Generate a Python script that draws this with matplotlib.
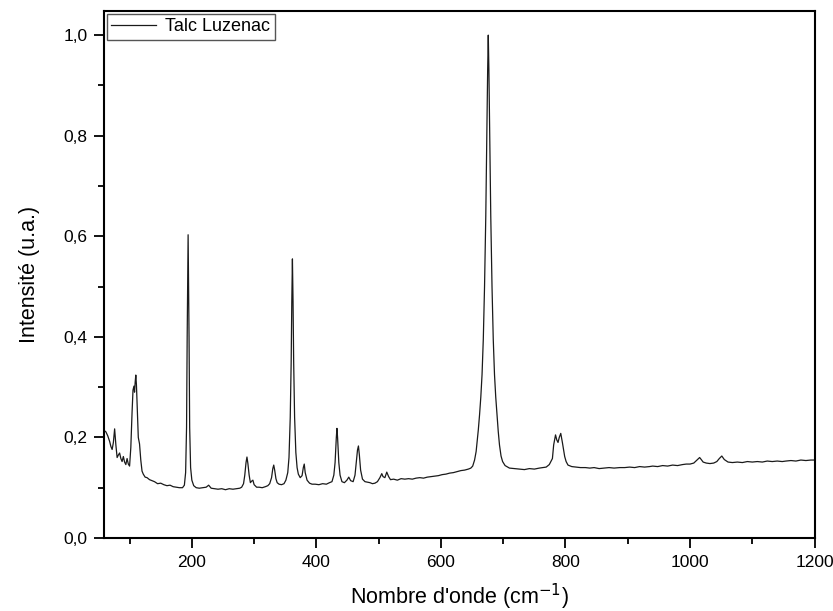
import matplotlib
matplotlib.use('Agg')
import matplotlib.pyplot as plt
from matplotlib.ticker import MultipleLocator, FuncFormatter

plt.rcParams['font.family'] = ['Liberation Sans', 'DejaVu Sans']

# Raman spectrum, as (wavenumber cm-1, intensity) pairs
low_region = [
    (60, 0.213), (62, 0.211), (65, 0.203), (68, 0.192), (70, 0.182), (72, 0.176),
    (74, 0.19), (76, 0.217), (78, 0.185), (80, 0.16), (82, 0.165), (84, 0.169),
    (86, 0.158), (88, 0.152), (90, 0.162), (92, 0.151), (94, 0.146), (96, 0.158),
    (98, 0.147), (100, 0.143), (102, 0.18), (104, 0.25), (105.5, 0.294),
    (107, 0.302), (108, 0.29), (109, 0.31), (110, 0.324), (111, 0.305),
    (112, 0.27), (113, 0.23), (114, 0.2), (115, 0.193), (116, 0.187),
    (118, 0.155), (120, 0.133), (122, 0.127), (125, 0.121), (128, 0.12),
    (132, 0.116), (136, 0.114), (140, 0.112), (145, 0.108), (150, 0.109),
    (155, 0.106), (160, 0.104), (165, 0.105), (170, 0.102), (175, 0.101),
    (180, 0.1), (185, 0.1), (188, 0.105), (190, 0.13), (191.5, 0.22),
    (192.5, 0.4), (194, 0.603), (195.5, 0.4), (196.5, 0.22), (198, 0.14),
    (200, 0.115), (203, 0.104), (207, 0.1), (212, 0.099), (218, 0.1),
    (223, 0.101), (227, 0.105), (231, 0.099), (236, 0.098), (242, 0.097),
    (248, 0.098), (254, 0.096), (260, 0.098), (266, 0.097), (272, 0.098),
    (277, 0.099),
]
mid_region = [
    (280, 0.101), (283, 0.108), (285, 0.125), (287, 0.15), (288.5, 0.161),
    (290, 0.148), (292, 0.125), (294, 0.11), (296, 0.113), (298, 0.115),
    (300, 0.106), (304, 0.101), (308, 0.101), (313, 0.1), (318, 0.102),
    (322, 0.104), (325, 0.108), (328, 0.12), (330, 0.138), (331.5, 0.145),
    (333, 0.135), (335, 0.118), (337, 0.11), (340, 0.107), (344, 0.106),
    (348, 0.108), (351, 0.115), (354, 0.13), (356, 0.16), (358, 0.24),
    (359.5, 0.35), (360.5, 0.47), (361.5, 0.555), (362.5, 0.47), (363.5, 0.35),
    (365, 0.24), (367, 0.17), (369, 0.14), (371, 0.127), (374, 0.12),
    (377, 0.124), (379, 0.14), (380.5, 0.147), (382, 0.13), (385, 0.115),
    (389, 0.109), (393, 0.107), (398, 0.107), (404, 0.106), (410, 0.108),
    (416, 0.107), (421, 0.11), (425, 0.112), (428, 0.125), (430, 0.15),
    (432, 0.2), (433, 0.218), (434, 0.2), (436, 0.15), (438, 0.125),
    (441, 0.112), (445, 0.11), (449, 0.115), (452, 0.121), (455, 0.114),
    (459, 0.112), (462, 0.125), (464, 0.15), (466, 0.175), (467.5, 0.183),
    (469, 0.165), (471, 0.135), (474, 0.117), (478, 0.112), (482, 0.111),
    (486, 0.11), (490, 0.108), (494, 0.109), (498, 0.112), (502, 0.12),
    (505, 0.128), (507, 0.122), (510, 0.12), (513, 0.131), (516, 0.122),
    (519, 0.116), (524, 0.117), (530, 0.115), (536, 0.118), (542, 0.117),
    (548, 0.118), (554, 0.117), (560, 0.119), (566, 0.12), (572, 0.119),
    (578, 0.121), (584, 0.122), (590, 0.123), (596, 0.124), (602, 0.126),
    (608, 0.127), (614, 0.129), (620, 0.13), (626, 0.132), (632, 0.134),
]
main_peak = [
    (638, 0.135), (644, 0.137), (648, 0.139), (651, 0.143), (654, 0.155),
    (656.5, 0.172), (658, 0.19), (660, 0.215), (662, 0.245), (664, 0.28),
    (666, 0.325), (668, 0.395), (670, 0.5), (672, 0.64), (674, 0.83),
    (675, 0.93), (676, 1.0), (677, 0.93), (678, 0.83), (680, 0.64),
    (682, 0.5), (684, 0.395), (686, 0.325), (688, 0.28), (690, 0.245),
    (692, 0.212), (694, 0.185), (696.5, 0.163), (699, 0.152), (703, 0.144),
    (710, 0.139), (718, 0.138), (726, 0.137),
]
high_region = [
    (734, 0.136), (742, 0.138), (750, 0.137), (758, 0.139), (764, 0.14),
    (769, 0.141), (774, 0.146), (779, 0.158), (781, 0.185), (784, 0.205),
    (786, 0.195), (788, 0.19), (790, 0.2), (792.4, 0.208), (795, 0.19),
    (798.7, 0.162), (801, 0.152), (804, 0.145), (810, 0.142), (817, 0.141),
    (824, 0.14), (832, 0.14), (839, 0.139), (846, 0.14), (854, 0.138),
    (862, 0.139), (870, 0.14), (878, 0.139), (887, 0.14), (895, 0.14),
    (903, 0.141), (911, 0.14), (919, 0.142), (927, 0.141), (935, 0.142),
    (940, 0.143), (948, 0.142), (956, 0.144), (964, 0.143), (972, 0.145),
    (980, 0.144), (988, 0.146), (994, 0.147), (1000, 0.147), (1006, 0.149),
    (1011, 0.155), (1015.4, 0.16), (1018, 0.156), (1021, 0.151), (1026, 0.149),
    (1032, 0.148), (1038, 0.149), (1043, 0.152), (1047, 0.158), (1051, 0.163),
    (1055, 0.156), (1061, 0.151), (1068, 0.15), (1076, 0.151), (1084, 0.15),
    (1092, 0.152), (1100, 0.151), (1108, 0.152), (1116, 0.151), (1124, 0.153),
    (1132, 0.152), (1140, 0.153), (1148, 0.152), (1154, 0.153), (1162, 0.154),
    (1170, 0.153), (1178, 0.155), (1186, 0.154), (1194, 0.155), (1200, 0.155),
]

x_ticks = [200, 400, 600, 800, 1000, 1200]
y_ticks = [0.0, 0.2, 0.4, 0.6, 0.8, 1.0]

spectrum = low_region + mid_region + main_peak + high_region
wavenumber = [p[0] for p in spectrum]
intensity = [p[1] for p in spectrum]

fig = plt.figure(figsize=(8.33, 6.11), dpi=100)
ax = fig.add_axes([0.1249, 0.1195, 0.853, 0.8625])

ax.plot(wavenumber, intensity, color='#1a1a1a', lw=0.9, label='Talc Luzenac')

ax.set_xlim(59, 1200)
ax.set_ylim(0, 1.048)
ax.set_xticks(x_ticks)
ax.set_yticks(y_ticks)
ax.xaxis.set_minor_locator(MultipleLocator(100))
ax.yaxis.set_minor_locator(MultipleLocator(0.1))
ax.yaxis.set_major_formatter(FuncFormatter(lambda v, p: ('%.1f' % v).replace('.', ',')))

ax.tick_params(which='both', direction='out', top=False, right=False,
               width=1.3, labelsize=12.5, colors='black')
ax.tick_params(which='major', length=7, pad=5)
ax.tick_params(which='minor', length=4)
for s in ax.spines.values():
    s.set_linewidth(1.5)

ax.set_xlabel("Nombre d'onde (cm$^{-1}$)", fontsize=15.5, labelpad=9)
ax.set_ylabel('Intensité (u.a.)', fontsize=15.5, labelpad=17)

leg = ax.legend(loc='upper left', fontsize=13, fancybox=False, framealpha=1,
                borderaxespad=0.15, handlelength=2.5, borderpad=0.25,
                handletextpad=0.5)
leg.get_frame().set_edgecolor('#555555')
leg.get_frame().set_linewidth(1.0)

fig.savefig('out.png', dpi=100)
